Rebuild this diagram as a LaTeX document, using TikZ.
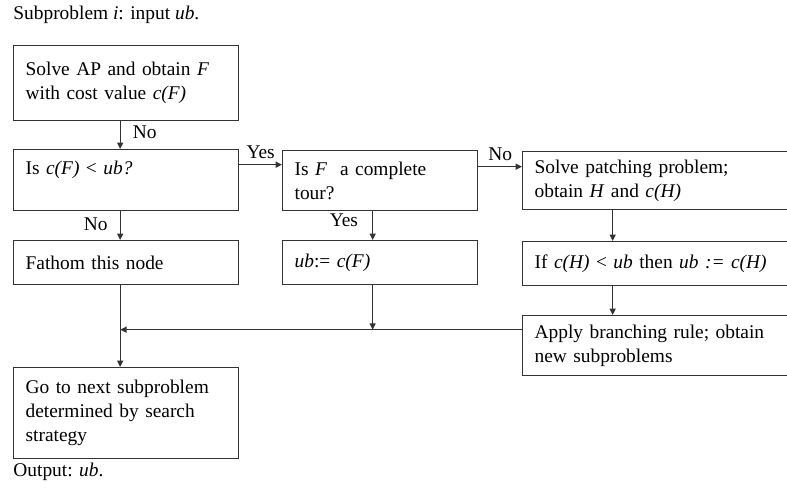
\documentclass[tikz,border=0pt]{standalone}
\usepackage{fontspec}
\setmainfont{Liberation Serif}
\usetikzlibrary{arrows.meta}
\definecolor{flowline}{HTML}{333333}
\tikzset{
  pbox/.style={rectangle, draw=flowline, line width=0.65pt, text width=#1,
               inner xsep=6pt, inner ysep=0pt, align=left, anchor=north west,
               font=\fontsize{9.7}{12}\selectfont},
  pbox/.default=100.5pt,
  lbl/.style={font=\fontsize{9.7}{12}\selectfont, inner sep=1pt},
  txt/.style={font=\fontsize{9.7}{12}\selectfont, inner sep=0pt, anchor=base west},
  arr/.style={-{Triangle[length=3.2pt, width=3pt]}, line width=0.65pt, draw=flowline},
}
\begin{document}
\begin{tikzpicture}[x=0.5pt, y=-0.5pt]
  \path[use as bounding box, clip] (0,0) rectangle (787,489);

  % Texts above and below
  \node[txt] (ttl) at (13,19) {Subproblem \textit{i}: input \textit{ub}.};
  \node[txt] (out) at (13,476) {Output: \textit{ub}.};

  % Left column
  \node[pbox, minimum height=37.5pt] (ap) at (13,45)
    {Solve AP and obtain \textit{F}\\ with cost value \textit{c(F)}};
  \node[pbox, minimum height=30.5pt] (lt) at (13,149)
    {Is \textit{c(F)} < \textit{ub?}\\~};
  \node[pbox, minimum height=22pt] (fath) at (13,240) {Fathom this node};
  \node[pbox, minimum height=45.5pt] (next) at (13,367)
    {Go to next subproblem\\ determined by search\\ strategy};

  % Middle column
  \node[pbox=85.5pt, minimum height=30pt] (tour) at (282,150)
    {Is \textit{F}~ a complete\\ tour?};
  \node[pbox=85.5pt, minimum height=22pt] (ubf) at (282,240)
    {\textit{ub}:= \textit{c(F)}};

  % Right column (runs off the page)
  \node[pbox=124.5pt, minimum height=29pt] (patch) at (522,151)
    {Solve patching problem;\\ obtain \textit{H} and \textit{c(H)}};
  \node[pbox=124.5pt, minimum height=22pt] (upd) at (522,241)
    {If \textit{c(H)} < \textit{ub} then \textit{ub :=} \textit{c(H)}};
  \node[pbox=124.5pt, minimum height=30pt] (app) at (522,315)
    {Apply branching rule; obtain\\ new subproblems};

  % Connector points
  \coordinate (jn) at ([yshift=8pt]app.west);
  \coordinate (fathout) at ([xshift=-3pt]fath.south);
  \coordinate (ubfout) at ([xshift=-3.75pt]ubf.south);

  % Arrows
  \draw[arr] ([xshift=-3pt]ap.south) -- ([xshift=-3pt]lt.north)
    node[lbl, pos=0.4, right=5pt] (n1) {No};
  \draw[arr] ([yshift=7.75pt]lt.east) -- ([yshift=7.75pt]lt.east -| tour.west)
    node[lbl, midway, above=1.5pt] (y1) {Yes};
  \draw[arr] ([xshift=-3pt]lt.south) -- ([xshift=-3pt]fath.north)
    node[lbl, pos=0.45, left=5pt] (n2) {No};
  \draw[arr] ([xshift=-3.75pt]tour.south) -- ([xshift=-3.75pt]ubf.north)
    node[lbl, pos=0.3, left=6pt] (y2) {Yes};
  \draw[arr] ([yshift=7pt]tour.east) -- ([yshift=7pt]tour.east -| patch.west)
    node[lbl, midway, above=1.5pt] (n3) {No};
  \draw[arr] ([xshift=-23.25pt]patch.south) -- ([xshift=-23.25pt]upd.north);
  \draw[arr] ([xshift=-23.25pt]upd.south) -- ([xshift=-23.25pt]app.north);
  \draw[arr] (ubfout) -- (ubfout |- jn);
  \draw[arr] (jn) -- (fathout |- jn);
  \draw[arr] (fathout) -- (fathout |- next.north);
\end{tikzpicture}
\end{document}
